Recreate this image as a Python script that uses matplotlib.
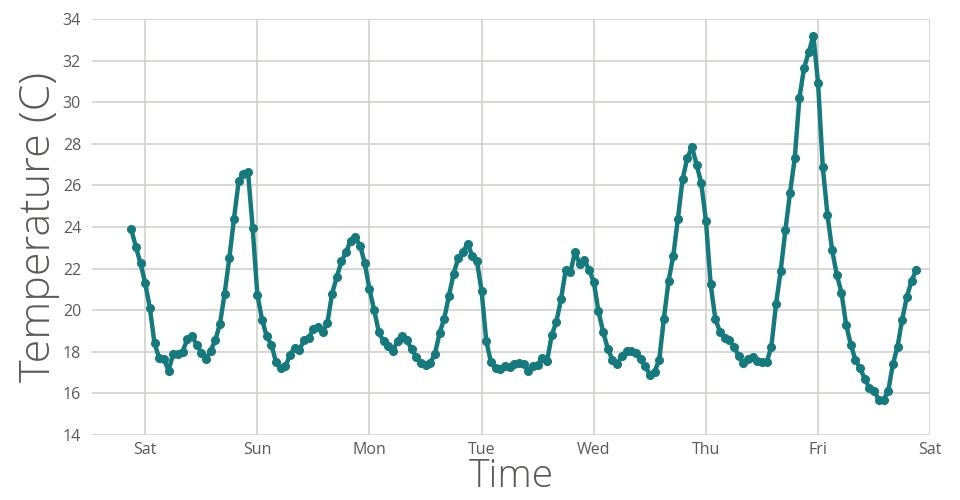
import numpy as np
import pandas as pd
import matplotlib
matplotlib.use("Agg")
import matplotlib.pyplot as plt
import matplotlib.dates as mdates

START = "2024-05-31 21:00"

temps = [
    23.9, 23.05, 22.25, 21.3, 20.1, 18.4, 17.7, 17.65, 17.1, 17.9,
    17.9, 18.0, 18.6, 18.75, 18.35, 17.95, 17.65, 18.05, 18.55, 19.35,
    20.8, 22.5, 24.4, 26.2, 26.55, 26.65, 23.95, 20.75, 19.55, 18.75,
    18.35, 17.5, 17.2, 17.3, 17.85, 18.2, 18.1, 18.55, 18.65, 19.1,
    19.2, 18.95, 19.4, 20.8, 21.6, 22.35, 22.8, 23.35, 23.5, 23.1,
    22.25, 21.0, 20.0, 18.95, 18.5, 18.3, 18.05, 18.5, 18.75, 18.55,
    18.15, 17.75, 17.45, 17.35, 17.45, 17.9, 18.9, 19.6, 20.7, 21.75,
    22.5, 22.8, 23.2, 22.6, 22.35, 20.9, 18.5, 17.5, 17.2, 17.15,
    17.3, 17.25, 17.4, 17.45, 17.4, 17.1, 17.3, 17.35, 17.7, 17.55,
    18.8, 19.45, 20.55, 21.95, 21.85, 22.8, 22.2, 22.4, 21.95, 21.35,
    19.95, 18.95, 18.15, 17.6, 17.4, 17.8, 18.05, 18.05, 17.95, 17.65,
    17.3, 16.9, 17.05, 17.6, 19.6, 21.4, 22.6, 24.4, 26.3, 27.3,
    27.85, 27.0, 26.1, 24.3, 21.25, 19.6, 18.95, 18.65, 18.55, 18.25,
    17.8, 17.45, 17.65, 17.75, 17.55, 17.5, 17.5, 18.25, 20.3, 21.9,
    23.85, 25.65, 27.3, 30.2, 31.65, 32.4, 33.2, 30.9, 26.9, 24.6,
    22.9, 21.7, 20.85, 19.3, 18.35, 17.6, 17.2, 16.7, 16.25, 16.1,
    15.7, 15.7, 16.1, 17.4, 18.25, 19.55, 20.65, 21.4, 21.95,
]
times = pd.date_range(START, periods=len(temps), freq="h")
y_ticks = list(range(14, 35, 2))

LINE = "#147a7e"
TEXT = "#5c5957"
GRID = "#d3d1cc"

plt.rcParams['font.family'] = ['Open Sans', 'DejaVu Sans']

fig = plt.figure(figsize=(9.6, 5.0), dpi=100)
ax = fig.add_axes([0.096, 0.13, 0.873, 0.832])

ax.plot(times, temps, color=LINE, lw=3.2, marker='o', ms=5.5, zorder=3)

t0 = times[0]
ax.set_xlim(t0 - pd.Timedelta(hours=8.35), t0 + pd.Timedelta(hours=171))
ax.set_ylim(14, 34)
ax.set_yticks(y_ticks)
ax.xaxis.set_major_locator(mdates.DayLocator())
ax.xaxis.set_major_formatter(mdates.DateFormatter('%a'))

ax.grid(True, color=GRID, lw=1.2)
ax.set_axisbelow(True)
for s in ax.spines.values():
    s.set_visible(False)
ax.tick_params(length=0, labelsize=11.5, colors=TEXT)
ax.tick_params(axis='x', pad=5)
ax.tick_params(axis='y', pad=8)

ax.set_xlabel('Time', fontsize=28, color=TEXT, fontweight='light', labelpad=0)
ax.set_ylabel('Temperature (C)', fontsize=31, color=TEXT, fontweight='light', labelpad=2)

fig.savefig("out.png", dpi=100)
